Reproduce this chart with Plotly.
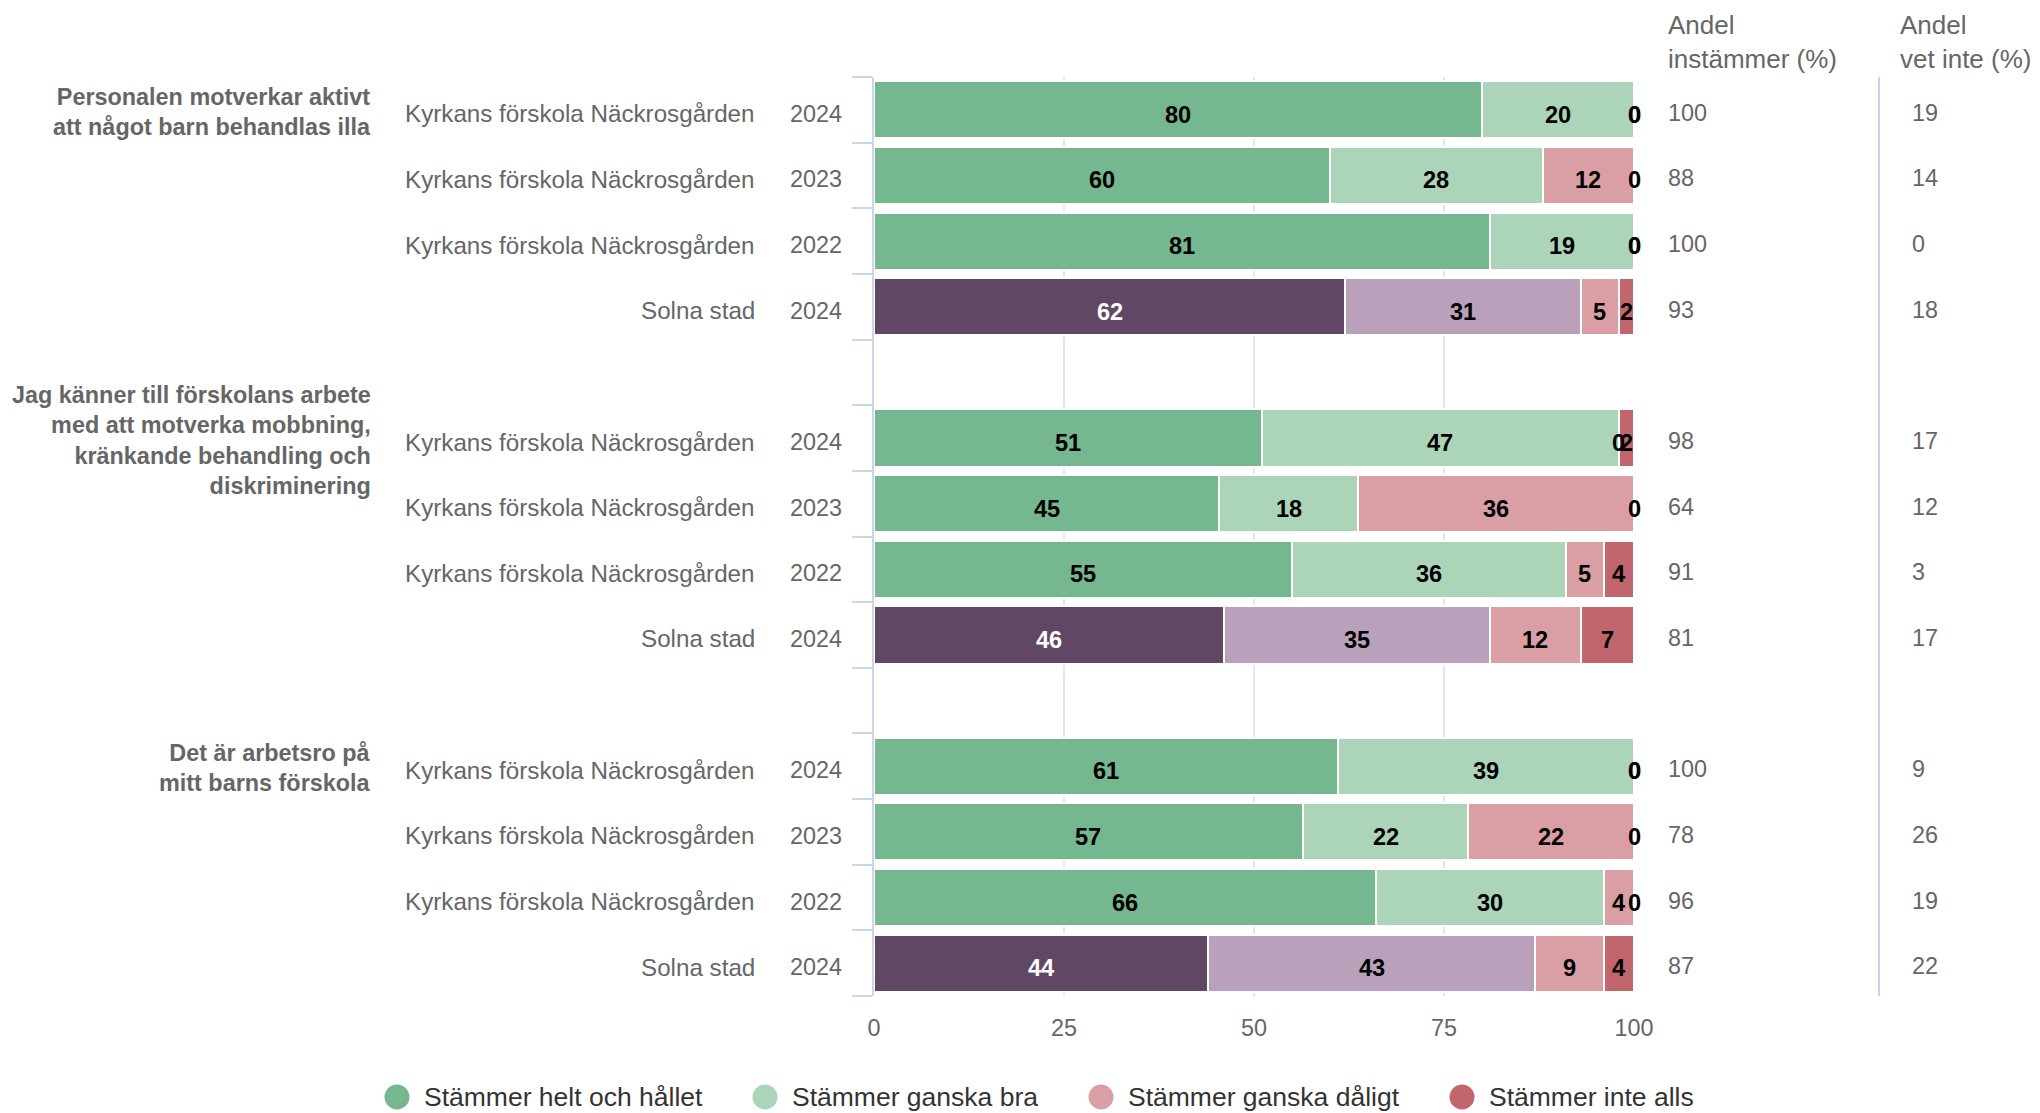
import plotly.graph_objects as go

# --- data ---------------------------------------------------------------
questions = [
    "Personalen motverkar aktivt<br>att något barn behandlas illa",
    "Jag känner till förskolans arbete<br>med att motverka mobbning,<br>kränkande behandling och<br>diskriminering",
    "Det är arbetsro på<br>mitt barns förskola",
]
units = ["Kyrkans förskola Näckrosgården", "Kyrkans förskola Näckrosgården",
         "Kyrkans förskola Näckrosgården", "Solna stad"]
years = ["2024", "2023", "2022", "2024"]

series_names = ["Stämmer helt och hållet", "Stämmer ganska bra",
                "Stämmer ganska dåligt", "Stämmer inte alls"]
helt = [80, 60, 81, 62, 51, 45, 55, 46, 61, 57, 66, 44]
bra = [20, 28, 19, 31, 47, 18, 36, 35, 39, 22, 30, 43]
daligt = [0, 12, 0, 5, 0, 36, 5, 12, 0, 22, 4, 9]
inte = [0, 0, 0, 2, 2, 0, 4, 7, 0, 0, 0, 4]

andel_instammer = [100, 88, 100, 93, 98, 64, 91, 81, 100, 78, 96, 87]
andel_vet_inte = [19, 14, 0, 18, 17, 12, 3, 17, 9, 26, 19, 22]

x_ticks = [0, 25, 50, 75, 100]

# --- styling ------------------------------------------------------------
FONT = "Liberation Sans, Arial, sans-serif"
SCHOOL_COLORS = ["#75b78e", "#acd4b9", "#da9fa5", "#c2666e"]
CITY_COLORS = ["#604763", "#baa1bb", "#da9fa5", "#c2666e"]

W, H = 2040, 1113
PL, PR, PT, PB = 874, 1634, 77, 996   # plot area in pixels


def px_x(p):
    return (p - PL) / (PR - PL)


def px_y(p):
    return (PB - p) / (PB - PT)


# rows: each question gets 4 rows plus an empty spacer row
rows, row_units, row_years = [], [], []
for g in range(len(questions)):
    for i in range(len(units)):
        rows.append(g * 5 + i)
        row_units.append(units[i])
        row_years.append(years[i])
n_rows = len(questions) * 5 - 1

all_series = [helt, bra, daligt, inte]

fig = go.Figure()
for k, vals in enumerate(all_series):
    colors = [CITY_COLORS[k] if u == "Solna stad" else SCHOOL_COLORS[k] for u in row_units]
    fig.add_trace(go.Bar(
        orientation="h", y=rows, x=vals, name=series_names[k],
        marker=dict(color=colors, line=dict(color="white", width=2)),
        showlegend=False, hoverinfo="skip",
    ))

ann = []
# data labels (centred on each normalised segment)
for r in range(len(rows)):
    total = sum(s[r] for s in all_series)
    cum = 0
    for k, s in enumerate(all_series):
        pct = s[r] / total * 100
        col = "white" if (k == 0 and row_units[r] == "Solna stad") else "black"
        ann.append(dict(xref="x", yref="y", x=cum + pct / 2, y=rows[r], text="<b>%d</b>" % s[r],
                        xanchor="center", yanchor="middle", yshift=-5, showarrow=False,
                        font=dict(family=FONT, size=23.6, color=col)))
        cum += pct

txt = dict(family=FONT, size=23.4, color="#666666")
# row labels and value columns
for r in range(len(rows)):
    ann.append(dict(xref="paper", yref="y", x=px_x(757), y=rows[r], text=row_units[r],
                    xanchor="right", yanchor="middle", yshift=-4, showarrow=False,
                    font=dict(family=FONT, size=24.2, color="#666666")))
    ann.append(dict(xref="paper", yref="y", x=px_x(844), y=rows[r], text=row_years[r],
                    xanchor="right", yanchor="middle", yshift=-4, showarrow=False, font=txt))
    ann.append(dict(xref="paper", yref="y", x=px_x(1666), y=rows[r], text=str(andel_instammer[r]),
                    xanchor="left", yanchor="middle", yshift=-3, showarrow=False, font=txt))
    ann.append(dict(xref="paper", yref="y", x=px_x(1910), y=rows[r], text=str(andel_vet_inte[r]),
                    xanchor="left", yanchor="middle", yshift=-3, showarrow=False, font=txt))
# question labels
for g, q in enumerate(questions):
    ann.append(dict(xref="paper", yref="y", x=px_x(373), y=g * 5, text="<b>" + q + "</b>",
                    xanchor="right", yanchor="middle", yshift=-2, align="right",
                    showarrow=False, font=txt))
# column headers
hdr = dict(family=FONT, size=26, color="#666666")
ann.append(dict(xref="paper", yref="paper", x=px_x(1666), y=px_y(42),
                text="Andel<br>instämmer (%)", xanchor="left", yanchor="middle",
                align="left", showarrow=False, font=hdr))
ann.append(dict(xref="paper", yref="paper", x=px_x(1898), y=px_y(42),
                text="Andel<br>vet inte (%)", xanchor="left", yanchor="middle",
                align="left", showarrow=False, font=hdr))

# custom legend with round symbols
shapes = []
leg_marker_x = [397, 765, 1101, 1462]
for k, name in enumerate(series_names):
    shapes.append(dict(type="circle", xref="paper", yref="paper",
                       xsizemode="pixel", ysizemode="pixel",
                       xanchor=px_x(leg_marker_x[k]), yanchor=px_y(1097),
                       x0=-12.5, x1=12.5, y0=-12.5, y1=12.5,
                       fillcolor=SCHOOL_COLORS[k], line=dict(width=0)))
    ann.append(dict(xref="paper", yref="paper", x=px_x(leg_marker_x[k] + 25), y=px_y(1097),
                    text=name, xanchor="left", yanchor="middle", showarrow=False,
                    font=dict(family=FONT, size=26.5, color="#333333")))

# separator between the two value columns
shapes.append(dict(type="line", xref="paper", yref="paper",
                   x0=px_x(1879), x1=px_x(1879), y0=0, y1=1,
                   line=dict(color="#c6d4ea", width=2)))

fig.update_layout(
    width=W, height=H,
    margin=dict(l=PL, r=W - PR, t=PT, b=H - PB, pad=0),
    barmode="stack", barnorm="percent", bargap=0.13,
    plot_bgcolor="white", paper_bgcolor="white",
    font=dict(family=FONT, color="#666666"),
    annotations=ann, shapes=shapes,
    xaxis=dict(range=[0, 100], tickvals=x_ticks, showgrid=True, gridcolor="#e6e6e6",
               gridwidth=2, zeroline=False, showline=False, ticks="",
               tickfont=dict(family=FONT, size=23.4, color="#666666"),
               ticklabelstandoff=16),
    yaxis=dict(range=[n_rows - 0.5, -0.5], tickvals=[i - 0.5 for i in range(n_rows + 1)],
               showticklabels=False, ticks="outside", ticklen=20, tickwidth=2,
               tickcolor="#ccd6eb", showline=True, linecolor="#ccd6eb", linewidth=2,
               showgrid=False, zeroline=False),
    showlegend=False,
)

fig.write_html("out.html", config={"displayModeBar": False},
               post_script="document.body.style.margin='0';")
